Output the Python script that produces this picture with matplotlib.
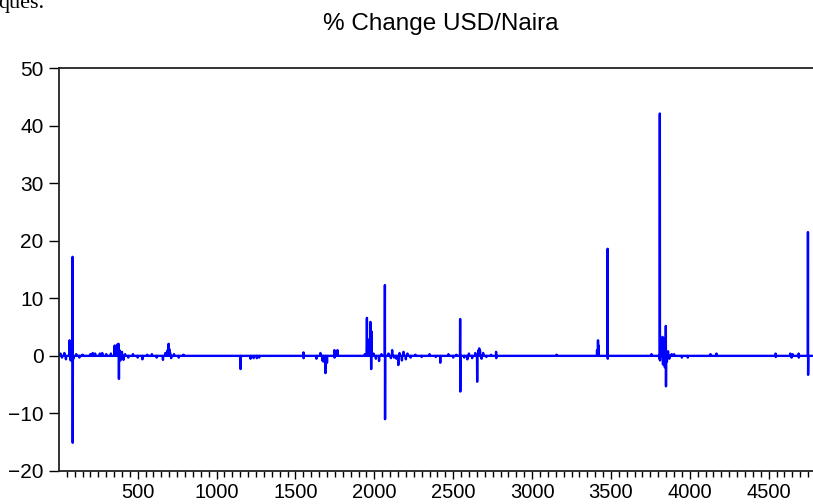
import numpy as np
import matplotlib
matplotlib.use("Agg")
import matplotlib.pyplot as plt
from matplotlib.ticker import MultipleLocator

plt.rcParams['font.family'] = ['Liberation Sans', 'DejaVu Sans']

# daily % change USD/Naira, observation number 1..n_obs
n_obs = 4800
title = "% Change USD/Naira"

event_obs = [10, 20, 35, 45, 68, 70, 75, 87, 88, 92, 110, 130, 150, 200, 215,
             230, 260, 275, 300, 330, 354, 356, 365, 372, 378, 381, 384, 390,
             400, 410, 420, 440, 470, 500, 530, 560, 590, 620, 660, 675, 690,
             696, 700, 705, 712, 730, 760, 790,
             1152, 1215, 1235, 1255, 1270, 1551, 1552, 1633, 1658, 1670, 1677,
             1690, 1700, 1747, 1748, 1766,
             1940, 1953, 1955, 1975, 1980, 1983, 1995, 2010, 2030, 2045, 2067,
             2068, 2090, 2105, 2113, 2125, 2140, 2152, 2160, 2175, 2185, 2200,
             2210, 2230, 2260, 2300, 2350, 2390, 2418, 2470, 2500, 2520, 2544,
             2545, 2570, 2590, 2600, 2620, 2640, 2652, 2660, 2665, 2670, 2680,
             2690, 2710, 2740, 2772, 2773,
             3156, 3412, 3418, 3422, 3479, 3480, 3757,
             3808, 3810, 3811, 3820, 3827, 3830, 3836, 3842, 3848, 3849, 3855,
             3862, 3870, 3885, 3900, 3950, 3987, 4131, 4169,
             4544, 4545, 4637, 4645, 4652, 4690, 4691, 4749, 4750]
event_pct = [0.4, -0.3, 0.5, -0.6, 2.7, 0.8, -0.8, 17.2, -15.1, -0.5, 0.3, -0.3,
             0.2, 0.3, 0.5, 0.4, 0.4, 0.5, 0.3, 0.4, 1.8, 0.6, 1.5, 2.0, 2.1,
             -4.0, 1.0, -0.8, 0.7, -0.7, 0.3, -0.3, 0.3, -0.3, -0.6, 0.2, 0.3,
             -0.3, -0.7, 0.5, 1.0, 2.1, 1.2, 0.6, -0.4, 0.3, -0.3, 0.2,
             -2.3, -0.5, -0.4, -0.4, -0.3, 0.6, -0.4, -0.5, 0.5, -0.8, -1.0,
             -3.0, -1.2, 1.0, -0.3, 1.0,
             0.3, 6.6, 3.0, 5.9, -2.3, 4.2, 0.4, -0.5, -0.9, 0.3, 12.3,
             -11.0, 0.4, -0.4, 1.0, -0.3, -0.5, -1.6, 0.5, -0.8, 0.7, -0.6,
             0.4, -0.3, 0.2, -0.2, 0.3, -0.2, -1.2, 0.3, -0.3, 0.2, 6.4,
             -6.2, -0.3, -0.6, 0.4, -0.4, 0.5, -4.5, 1.0, 1.3, 0.9, -0.5,
             0.5, -0.2, 0.2, 0.7, -0.4,
             0.2, 1.0, 2.7, 1.8, 18.6, -0.5, 0.3,
             -0.5, 42.1, -0.8, 1.5, 3.3, -1.5, 3.0, -2.0, 5.2, -5.3, -1.0,
             0.8, -0.5, 0.3, 0.3, -0.3, -0.3, 0.3, 0.4,
             0.4, -0.2, 0.4, -0.3, 0.3, 0.4, -0.3, 21.5, -3.3]

obs = np.arange(1, n_obs + 1)
pct = np.zeros(n_obs)
pct[np.array(event_obs) - 1] = event_pct

fig = plt.figure(figsize=(8.13, 5.04), dpi=100)
ax = fig.add_axes([59 / 813, 1 - 471 / 504, 757 / 813, 403 / 504])

ax.plot(obs, pct, color='#0000ff', lw=1.7)

ax.set_xlim(1, n_obs)
ax.set_ylim(-20, 50)
ax.yaxis.set_major_locator(MultipleLocator(10))
ax.xaxis.set_major_locator(MultipleLocator(500))
ax.xaxis.set_minor_locator(MultipleLocator(50))
ax.set_xticks([500, 1000, 1500, 2000, 2500, 3000, 3500, 4000, 4500])

ax.tick_params(axis='y', direction='out', length=7, width=1, labelsize=15, pad=4)
ax.tick_params(axis='x', which='major', direction='out', length=6, width=1,
               labelsize=14.5, pad=3)
ax.tick_params(axis='x', which='minor', direction='out', length=4, width=1)

for s in ['top', 'left', 'bottom']:
    ax.spines[s].set_linewidth(1.3)
    ax.spines[s].set_color('#222222')
ax.spines['right'].set_visible(False)

fig.text(441 / 813, 1 - 30 / 504, title, ha='center', va='baseline', fontsize=17.5)
# bit of surrounding document text cut at the top edge
fig.text(-2 / 813, 1 - 8 / 504, "ques.", ha='left', va='baseline',
         family='Liberation Serif', fontsize=16)

fig.savefig("out.png", dpi=100)
